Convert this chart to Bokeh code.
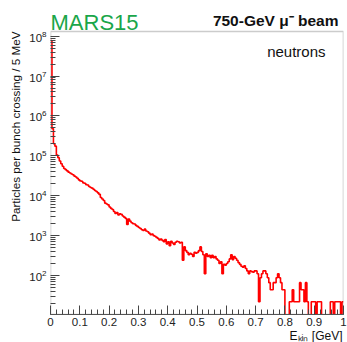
import math
from bokeh.plotting import figure
from bokeh.models import (Label, FixedTicker, CustomJSTickFormatter, ColumnDataSource,
                          BoxAnnotation, Title)
from bokeh.embed import file_html
from bokeh.resources import INLINE

# ---- data: neutron energy spectrum, 5 MeV bins from 0 to 1 GeV ----
bin_width_gev = 0.005
x_min_gev = 0.0
counts = [
    # 0.00 - 0.05
    78000000, 480000, 200000, 175000, 105000, 90000, 74000, 63000, 55000, 48000,
    # 0.05 - 0.10
    45000, 42000, 39000, 37000, 35000, 33500, 31000, 29500, 27500, 25000,
    # 0.10 - 0.15
    23500, 23000, 21000, 20500, 19000, 18500, 17000, 16000, 15500, 14500,
    # 0.15 - 0.20
    13500, 12800, 11800, 10800, 9000, 8300, 7600, 6500, 6200, 5900,
    # 0.20 - 0.25
    5200, 4800, 4500, 4000, 3600, 3800, 3300, 3500, 3400, 3100,
    # 0.25 - 0.30
    2900, 2700, 1900, 2600, 2300, 2100, 2000, 1950, 1800, 1700,
    # 0.30 - 0.35
    1600, 1500, 1400, 1350, 1450, 1300, 1250, 1150, 1050, 1100,
    # 0.35 - 0.40
    1000, 960, 900, 850, 780, 820, 760, 700, 800, 620,
    # 0.40 - 0.45
    700, 560, 720, 650, 600, 680, 720, 700, 650, 680,
    # 0.45 - 0.50
    240, 520, 420, 380, 330, 360, 340, 300, 380, 360,
    # 0.50 - 0.55
    380, 420, 520, 400, 330, 110, 350, 300, 320, 280,
    # 0.55 - 0.60
    320, 280, 300, 260, 240, 200, 220, 110, 190, 180,
    # 0.60 - 0.65
    200, 220, 260, 330, 250, 300, 270, 240, 210, 190,
    # 0.65 - 0.70
    170, 160, 175, 150, 130, 110, 130, 125, 120, 130,
    # 0.70 - 0.75
    130, 110, 22, 88, 110, 130, 130, 110, 88, 66,
    # 0.75 - 0.80
    44, 44, 66, 66, 88, 110, 88, 66, 44, 44,
    # 0.80 - 0.85
    0, 0, 0, 22, 22, 44, 22, 22, 22, 22,
    # 0.85 - 0.90
    66, 44, 44, 22, 66, 22, 0, 0, 22, 22,
    # 0.90 - 0.95
    22, 0, 22, 22, 22, 0, 0, 0, 0, 0,
    # 0.95 - 1.00
    0, 22, 22, 0, 22, 22, 22, 22, 0, 22,
]
x_ticks = [0, 0.1, 0.2, 0.3, 0.4, 0.5, 0.6, 0.7, 0.8, 0.9, 1.0]
y_ticks = [1e2, 1e3, 1e4, 1e5, 1e6, 1e7, 1e8]

title_left = "MARS15"
title_right = "750-GeV \u03bc\u207b beam"
species = "neutrons"
y_label = "Particles per bunch crossing / 5 MeV"
x_label = "E\u2096\u1d62\u2099 [GeV]"

FONT = "Liberation Sans"
AX = "#555555"
Y_LO, Y_HI = 10.5, 1.31e8          # visible histogram frame
FRAME_TOP_PX, FRAME_BOT_PX = 31, 314
# the drawing area reaches the top of the canvas so that the header texts fit
Y_TOP = Y_HI * 10 ** (math.log10(Y_HI / Y_LO) * FRAME_TOP_PX / (FRAME_BOT_PX - FRAME_TOP_PX))
FLOOR = 1.0  # zero bins drawn below the frame (clipped), like ROOT

edges = [x_min_gev + i * bin_width_gev for i in range(len(counts) + 1)]
ys = [c if c > 0 else FLOOR for c in counts]
src = ColumnDataSource(dict(x=edges, y=ys + [ys[-1]]))

p = figure(width=347, height=342, y_axis_type="log",
           x_range=(0, 1), y_range=(Y_LO, Y_TOP),
           output_backend="svg", toolbar_location=None,
           min_border_left=50, min_border_right=4,
           min_border_top=0, min_border_bottom=342 - FRAME_BOT_PX)
p.background_fill_color = "white"
p.border_fill_color = "white"
p.outline_line_color = None
p.grid.visible = False

p.step("x", "y", source=src, mode="after", line_color="#ff0000", line_width=1.6)

# frame box of the histogram
p.add_layout(BoxAnnotation(left=0, right=1, bottom=Y_LO, top=Y_HI,
                           fill_color=None, line_color=AX, line_width=1.6))

for ax in (p.xaxis[0], p.yaxis[0]):
    ax.axis_line_color = AX
    ax.major_tick_line_color = "#444444"
    ax.minor_tick_line_color = "#444444"
    ax.major_tick_in = 9
    ax.major_tick_out = 0
    ax.minor_tick_in = 5
    ax.minor_tick_out = 0
    ax.major_label_text_font = FONT
    ax.major_label_text_font_size = "11.5px"
    ax.major_label_text_color = "#222222"
p.yaxis.axis_line_color = None

p.xaxis.ticker = FixedTicker(ticks=x_ticks,
                             minor_ticks=[round(i * 0.02, 2) for i in range(51)])
p.xaxis.formatter = CustomJSTickFormatter(code="return (Math.round(tick*10)/10).toString();")
p.xaxis.major_label_standoff = 3
p.yaxis.ticker = FixedTicker(ticks=y_ticks,
                             minor_ticks=[m * 10 ** e for e in range(1, 8) for m in range(2, 10)])
p.yaxis.major_label_standoff = 4

# axis titles
p.add_layout(Title(text=y_label, align="right", offset=FRAME_TOP_PX,
                   text_font=FONT, text_font_size="11.7px", text_font_style="normal",
                   text_color="#111111"), "left")
p.add_layout(Title(text=x_label, align="right", offset=1, standoff=-4,
                   text_font=FONT, text_font_size="12px", text_font_style="normal",
                   text_color="#111111"), "below")

# header / legend texts (screen units relative to the frame's bottom-left corner)
FL = 50

def add(text, cx, cy, size, color="#111111", align="left", bold=False):
    p.add_layout(Label(x=cx - FL, y=FRAME_BOT_PX - cy, x_units="screen", y_units="screen",
                       text=text, text_font=FONT, text_font_size=size,
                       text_color=color, text_align=align, text_baseline="alphabetic",
                       text_font_style="bold" if bold else "normal"))

add(title_left, 50, 22, "22px", color="#1aa64a")
add(title_right, 338, 20, "15.5px", align="right", bold=True)
add(species, 325, 51, "15px", align="right")

open("out.html", "w").write(file_html(p, INLINE))
